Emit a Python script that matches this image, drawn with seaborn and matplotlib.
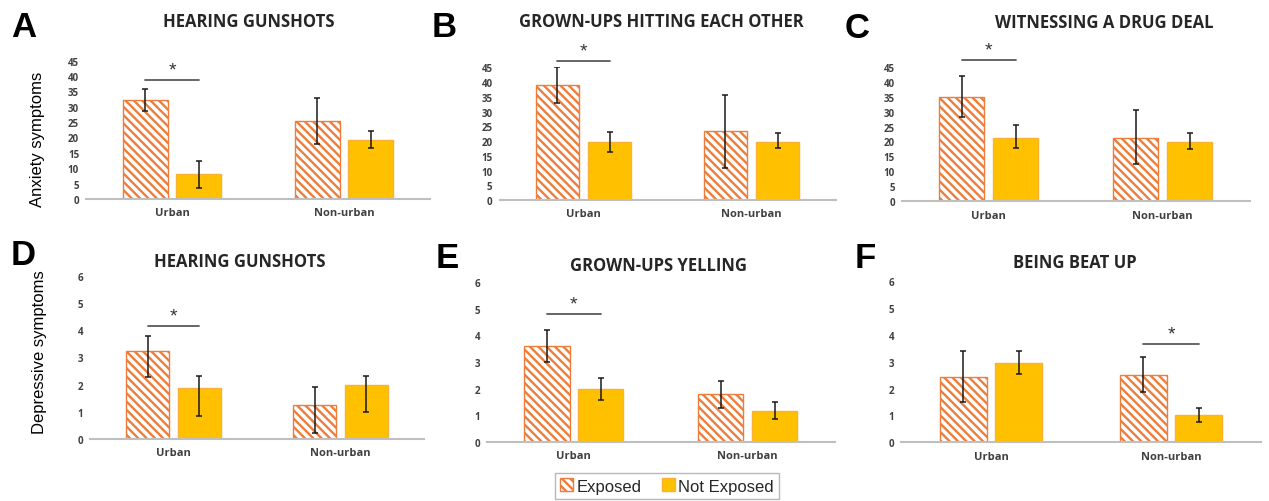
import numpy as np
import pandas as pd
import matplotlib.pyplot as plt
import seaborn as sns
from matplotlib.patches import Patch

# ---- data ----
panel_letters = ['A', 'B', 'C', 'D', 'E', 'F']
panel_titles = ['HEARING GUNSHOTS', 'GROWN-UPS HITTING EACH OTHER', 'WITNESSING A DRUG DEAL',
                'HEARING GUNSHOTS', 'GROWN-UPS YELLING', 'BEING BEAT UP']
locations = ['Urban', 'Non-urban']
exposure_groups = ['Exposed', 'Not Exposed']

# [urban, non-urban] per panel
exposed_means = [[32.1, 25.5], [38.9, 23.4], [35.0, 21.3], [3.24, 1.25], [3.59, 1.79], [2.45, 2.52]]
exposed_lower = [[28.5, 18.0], [32.8, 11.0], [28.1, 12.5], [2.26, 0.22], [3.00, 1.25], [1.49, 1.88]]
exposed_upper = [[35.6, 32.8], [45.0, 35.6], [41.9, 30.4], [3.77, 1.91], [4.19, 2.30], [3.42, 3.17]]
not_exposed_means = [[8.07, 19.2], [19.8, 19.8], [21.3, 19.8], [1.87, 2.00], [1.97, 1.17], [2.96, 1.01]]
not_exposed_lower = [[3.66, 16.6], [16.3, 17.5], [17.7, 17.4], [0.86, 1.00], [1.58, 0.84], [2.56, 0.75]]
not_exposed_upper = [[12.3, 22.0], [23.2, 22.8], [25.4, 22.7], [2.31, 2.31], [2.38, 1.51], [3.42, 1.29]]

# significance markers
sig_location = ['Urban', 'Urban', 'Urban', 'Urban', 'Urban', 'Non-urban']
sig_line_y = [38.8, 47.2, 47.4, 4.14, 4.8, 3.68]

y_max = [45, 45, 45, 6, 6, 6]
y_step = [5, 5, 5, 1, 1, 1]
row_labels = ['Anxiety symptoms', 'Depressive symptoms']

# ---- style ----
ORANGE = '#EE7D3B'
GOLD = '#FFC000'
GOLD_EDGE = '#F9B233'
AXIS_GREY = '#BFBFBF'
TICK_COLOR = '#404040'

sns.set_theme(style='white')
plt.rcParams['font.family'] = ['Liberation Sans', 'DejaVu Sans']
plt.rcParams['hatch.linewidth'] = 1.7

W, H = 1269, 502
fig = plt.figure(figsize=(W / 100, H / 100), dpi=100)


def px_rect(left, right, y0, ytop):
    return [left / W, 1 - y0 / H, (right - left) / W, (y0 - ytop) / H]


# axes placement in pixels: left, right, y of zero, y of max
axes_px = [(86, 430, 200, 61.5), (499.5, 835.5, 201, 68.3), (901.8, 1249.8, 202.3, 67.7),
           (90, 424, 440, 276.7), (487, 834.6, 442.7, 283.3), (901, 1261, 443.3, 282.3)]
title_px = [(249, 22), (661, 22), (1104, 23), (240, 262), (659, 266), (1075, 263)]
letter_px = [(11, 11), (432, 11), (845, 12), (11, 239), (436, 242), (855, 242)]
ylabel_px = [(38, 139), (40, 352)]

for i in range(6):
    ax = fig.add_axes(px_rect(*axes_px[i]))
    df = pd.DataFrame({
        'location': locations * 2,
        'exposure': [exposure_groups[0]] * 2 + [exposure_groups[1]] * 2,
        'score': exposed_means[i] + not_exposed_means[i],
    })
    lower = exposed_lower[i] + not_exposed_lower[i]
    upper = exposed_upper[i] + not_exposed_upper[i]

    sns.barplot(data=df, x='location', y='score', hue='exposure', order=locations,
                hue_order=exposure_groups, palette=[ORANGE, GOLD], saturation=1,
                width=0.62, gap=0.16, errorbar=None, legend=False, ax=ax)

    centers = {}
    for k, p in enumerate(ax.patches):
        if k < 2:
            p.set_facecolor('white')
            p.set_edgecolor(ORANGE)
            p.set_hatch('\\\\\\\\')
            p.set_linewidth(1.0)
        else:
            p.set_edgecolor(GOLD_EDGE)
            p.set_linewidth(1.0)
        x = p.get_x() + p.get_width() / 2
        m = df['score'].iloc[k]
        centers[(df['location'].iloc[k], df['exposure'].iloc[k])] = x
        ax.errorbar(x, m, yerr=[[m - lower[k]], [upper[k] - m]], fmt='none',
                    ecolor='#1a1a1a', elinewidth=1.1, capsize=2.5, capthick=1.1, zorder=5)

    # significance bar + star
    loc = sig_location[i]
    x1 = centers[(loc, 'Exposed')]
    x2 = centers[(loc, 'Not Exposed')]
    ax.plot([x1, x2], [sig_line_y[i]] * 2, color='#595959', lw=1.3, clip_on=False)
    ax.annotate('*', xy=((x1 + x2) / 2, sig_line_y[i]), xytext=(0, 1), textcoords='offset points',
                ha='center', va='bottom', fontsize=14, color='#333333', annotation_clip=False)

    ax.set_xlim(-0.5, 1.5)
    ax.set_ylim(0, y_max[i])
    ax.set_yticks(np.arange(0, y_max[i] + y_step[i] / 2, y_step[i]))
    ax.set_xlabel('')
    ax.set_ylabel('')
    for s in ['top', 'right', 'left']:
        ax.spines[s].set_visible(False)
    ax.spines['bottom'].set_color(AXIS_GREY)
    ax.spines['bottom'].set_linewidth(1.5)
    ax.tick_params(axis='both', length=0, colors=TICK_COLOR)
    ax.tick_params(axis='y', pad=5)
    ax.tick_params(axis='x', pad=6)
    for lab in ax.get_yticklabels():
        lab.set_fontfamily(['Open Sans', 'DejaVu Sans'])
        lab.set_fontweight('bold')
        lab.set_fontsize(7)
    for lab in ax.get_xticklabels():
        lab.set_fontfamily(['Open Sans', 'DejaVu Sans'])
        lab.set_fontweight('bold')
        lab.set_fontsize(8)
    ax.set_facecolor('none')

    tx, ty = title_px[i]
    fig.text(tx / W, 1 - ty / H, panel_titles[i], ha='center', va='center',
             fontsize=12, fontweight='bold', color='#262626',
             family=['Open Sans', 'DejaVu Sans'])
    lx, ly = letter_px[i]
    fig.text(lx / W, 1 - ly / H, panel_letters[i], ha='left', va='top',
             fontsize=25, fontweight='bold', color='black')

for j, lab in enumerate(row_labels):
    x, y = ylabel_px[j]
    fig.text(x / W, 1 - y / H, lab, rotation=90, ha='center', va='center',
             fontsize=12, color='black')

handles = [Patch(facecolor='white', edgecolor=ORANGE, hatch='\\\\\\\\', linewidth=1.0),
           Patch(facecolor=GOLD, edgecolor=GOLD_EDGE)]
fig.legend(handles=handles, labels=exposure_groups, loc='center',
           bbox_to_anchor=(667 / W, 1 - 487 / H), ncol=2, frameon=True, fancybox=False,
           edgecolor='#A6A6A6', fontsize=12, handlelength=0.8, handleheight=0.8,
           handletextpad=0.2, columnspacing=1.2, borderpad=0.3)

fig.savefig('out.png', dpi=100)
